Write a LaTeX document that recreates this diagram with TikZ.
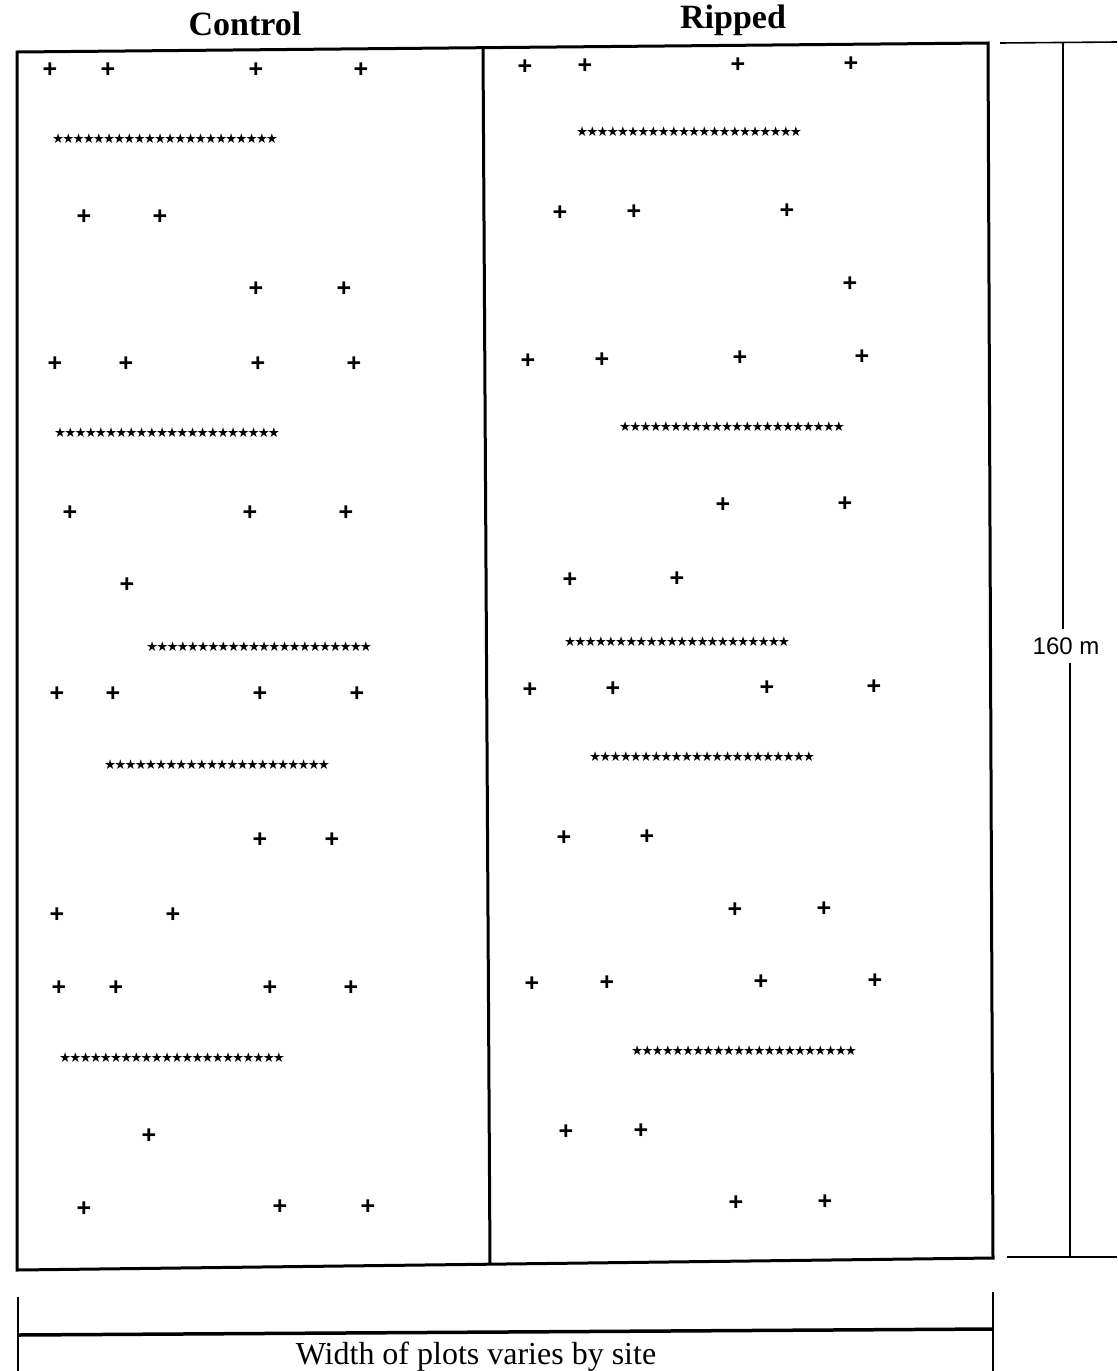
\documentclass[tikz,border=0pt]{standalone}
\usepackage{fontspec}
\setmainfont{Liberation Serif}
\newfontfamily\symf{DejaVu Sans}
\newfontfamily\arialf{Liberation Sans}
\newcommand\starline{\hbox to 224pt{\xleaders\hbox to 10.18pt{\hss ★\hss}\hfill}}
\begin{document}
\begin{tikzpicture}[x=1pt,y=-1pt,
  frame/.style={line width=3pt, line join=miter},
  barline/.style={line width=1.6pt},
  thickbar/.style={line width=3.5pt},
  pl/.style={font=\arialf\bfseries\fontsize{25}{25}\selectfont, inner sep=0pt},
  strow/.style={inner sep=0pt, anchor=west, font=\symf\fontsize{13.5}{13.5}\selectfont},
  title/.style={font=\bfseries\fontsize{34}{38}\selectfont, inner sep=0pt},
]
\useasboundingbox (0,0) rectangle (1117,1371);
% plot frame
\coordinate (TL) at (17,52);
\coordinate (TR) at (988,43);
\coordinate (BR) at (993,1258);
\coordinate (BL) at (17,1270);
\coordinate (DT) at (483,48);
\coordinate (DB) at (490,1264);
\draw[frame] (TL) -- (TR) -- (BR) -- (BL) -- cycle;
\draw[frame] (DT) -- (DB);
% titles
\node[title] (ctl) at (245,24) {Control};
\node[title] (rip) at (733,20) {Ripped};
% control plus signs
\foreach \x/\y [count=\i] in {50/70,108/70,256/70,361/70,
  84/217,160/217, 256/289,344/289,
  55/364,126/364,258/364,354/364,
  70/513,250/513,346/513, 127/585,
  57/694,113/694,260/694,357/694,
  260/840,332/840, 57/915,173/915,
  59/988,116/988,270/988,351/988,
  149/1136, 84/1209,280/1207,368/1207}
  \node[pl] (c\i) at (\x,\y) {+};
% ripped plus signs
\foreach \x/\y [count=\i] in {525/67,585/66,738/65,851/64,
  560/213,634/212,787/211, 850/284,
  528/361,602/360,740/358,862/357,
  723/505,845/504, 570/580,677/579,
  530/690,613/689,767/688,874/687,
  564/838,647/837, 735/910,824/909,
  532/984,607/983,761/982,875/981,
  566/1132,641/1131, 736/1203,825/1202}
  \node[pl] (r\i) at (\x,\y) {+};
% star rows
\foreach \x/\y [count=\i] in {53/139,55/433,147/647,105/765,60/1058}
  \node[strow] (cs\i) at (\x,\y) {\starline};
\foreach \x/\y [count=\i] in {577/132,620/427,565/642,590/757,632/1051}
  \node[strow] (rs\i) at (\x,\y) {\starline};
% height scale
\coordinate (ht1) at (1000,43);
\coordinate (ht2) at (1117,42);
\coordinate (hb1) at (1007,1257);
\coordinate (hb2) at (1117,1257);
\coordinate (vt) at (1063,43);
\coordinate (vb) at (1070,1257);
\node[font=\arialf\fontsize{24}{24}\selectfont, inner xsep=0pt, inner ysep=8pt] (hl) at (1066,646) {160 m};
\draw[barline] (ht1) -- (ht2);
\draw[barline] (hb1) -- (hb2);
\draw[barline] (vt) -- (vt |- hl.north);
\draw[barline] (vb |- hl.south) -- (vb);
% width scale
\coordinate (wl1) at (18,1297);
\coordinate (wl2) at (18,1371);
\coordinate (wr1) at (993,1292);
\coordinate (wr2) at (993,1371);
\coordinate (wl) at (18,1335);
\coordinate (wr) at (993,1329);
\draw[barline] (wl1) -- (wl2);
\draw[barline] (wr1) -- (wr2);
\draw[thickbar] (wl) -- (wr);
\node[font=\fontsize{32}{34}\selectfont, inner sep=0pt, anchor=base] (wlab) at (476,1364) {Width of plots varies by site};
\end{tikzpicture}
\end{document}
